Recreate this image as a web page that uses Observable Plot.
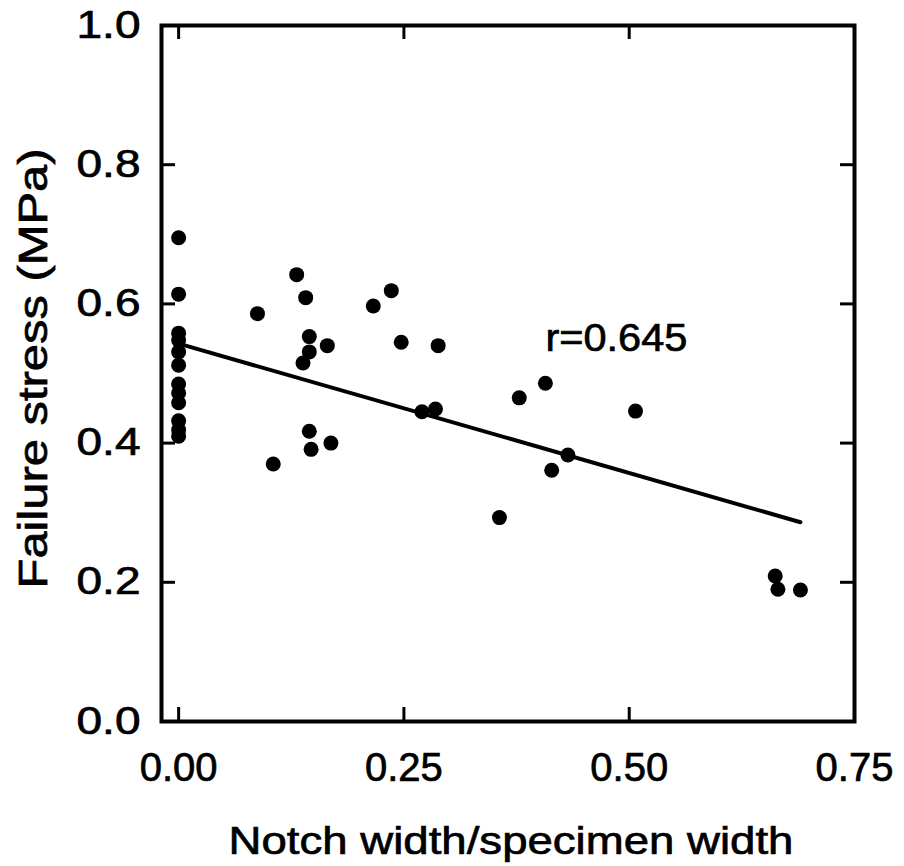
<!DOCTYPE html>
<html><head><meta charset="utf-8">
<script src="https://cdn.jsdelivr.net/npm/d3@7"></script>
<script src="https://cdn.jsdelivr.net/npm/@observablehq/plot@0.6"></script>
<style>
body{margin:0;background:#fff}
svg text{stroke:#000;stroke-width:0.7px}
</style>
</head><body><div id="chart"></div>
<script>
// Data
const notchRatio = [0, 0, 0, 0, 0, 0, 0, 0, 0, 0, 0, 0,
  0.0875, 0.105, 0.131, 0.138, 0.141, 0.145, 0.145, 0.145, 0.147, 0.165, 0.169,
  0.216, 0.236, 0.247, 0.270, 0.285, 0.288, 0.356, 0.378, 0.407, 0.414, 0.432,
  0.507, 0.662, 0.665, 0.690];
const failureStress = [0.695, 0.614, 0.558, 0.548, 0.531, 0.512, 0.485, 0.472, 0.458, 0.432, 0.419, 0.410,
  0.586, 0.370, 0.642, 0.515, 0.609, 0.553, 0.531, 0.417, 0.391, 0.540, 0.400,
  0.597, 0.619, 0.545, 0.445, 0.449, 0.540, 0.293, 0.465, 0.486, 0.361, 0.383,
  0.446, 0.209, 0.190, 0.189];
const xTicks = [0, 0.25, 0.5, 0.75];
const yTicks = [0, 0.2, 0.4, 0.6, 0.8, 1.0];
const xInnerTicks = [0, 0.25, 0.5];
const yInnerTicks = [0.2, 0.4, 0.6, 0.8];
const fitX = [0, 0.69];
const fitIntercept = 0.543;
const fitSlope = -0.372;
const rLabel = "r=0.645";
const xLabel = "Notch width/specimen width";
const yLabel = "Failure stress (MPa)";

const points = notchRatio.map((x, i) => ({x, y: failureStress[i]}));
const fitLine = fitX.map(x => ({x, y: fitIntercept + fitSlope * x}));

const W = 904, H = 866, mL = 161, mR = 50, mT = 25, mB = 145;
const plotW = W - mL - mR, plotH = H - mT - mB, tickLen = 14;

const chart = Plot.plot({
  width: W, height: H,
  marginLeft: mL, marginRight: mR, marginTop: mT, marginBottom: mB,
  style: {fontFamily: "'Liberation Sans', Arial, Helvetica, sans-serif", color: "#000", background: "#fff"},
  x: {domain: [-0.019, 0.75]},
  y: {domain: [0, 1]},
  marks: [
    Plot.axisX(xTicks, {tickSize: 0, tickPadding: 31, tickFormat: d3.format(".2f"), label: null, fontSize: 40}),
    Plot.axisY(yTicks, {tickSize: 0, tickPadding: 21, tickFormat: d3.format(".1f"), label: null, fontSize: 38}),
    Plot.tickY(yInnerTicks, {y: d => d, insetRight: plotW - tickLen, strokeWidth: 3}),
    Plot.tickY(yInnerTicks, {y: d => d, insetLeft: plotW - tickLen, strokeWidth: 3}),
    Plot.tickX(xInnerTicks, {x: d => d, insetTop: plotH - tickLen, strokeWidth: 3}),
    Plot.tickX(xInnerTicks, {x: d => d, insetBottom: plotH - tickLen, strokeWidth: 3}),
    Plot.frame({strokeWidth: 4}),
    Plot.line(fitLine, {x: "x", y: "y", strokeWidth: 4}),
    Plot.dot(points, {x: "x", y: "y", r: 7.5, fill: "#000"}),
    Plot.text([rLabel], {x: 0.407, y: 0.55, text: d => d, textAnchor: "start", fontSize: 38}),
    Plot.text([xLabel], {frameAnchor: "bottom", dx: 3, dy: 132, lineAnchor: "bottom", textAnchor: "middle", text: d => d, fontSize: 39}),
    Plot.text([yLabel], {frameAnchor: "left", rotate: -90, dx: -115, dy: -5, lineAnchor: "bottom", textAnchor: "middle", text: d => d, fontSize: 40})
  ]
});
document.getElementById("chart").append(chart);

// Stretch lettering to the reference's wider type: wrap a mark group in a scaling <g>
const svgRect = chart.getBoundingClientRect();
function wrapScale(group, cx, cy, sx, sy) {
  const w = document.createElementNS("http://www.w3.org/2000/svg", "g");
  group.parentNode.insertBefore(w, group);
  w.appendChild(group);
  w.setAttribute("transform", `translate(${cx},${cy}) scale(${sx},${sy}) translate(${-cx},${-cy})`);
}
function findText(str) {
  return [...chart.querySelectorAll("text")].find(t => t.textContent === str);
}
function rectOf(el) {
  const r = el.getBoundingClientRect();
  return {x: r.left - svgRect.left, y: r.top - svgRect.top, w: r.width, h: r.height};
}
{
  const t = findText(xLabel), r = rectOf(t);
  wrapScale(t.parentNode, r.x + r.w / 2, r.y + r.h / 2, 565 / r.w, 1);
}
{
  const t = findText(yLabel), r = rectOf(t);
  wrapScale(t.parentNode, r.x + r.w / 2, r.y + r.h / 2, 1, 440 / r.h);
}
{
  const t = findText(rLabel), r = rectOf(t);
  wrapScale(t.parentNode, r.x, r.y + r.h / 2, 142 / r.w, 1);
}
{
  const t = findText("0.8"), r = rectOf(t);
  wrapScale(t.parentNode, r.x + r.w, 0, 64 / r.w, 1);
}
</script>
</body></html>
